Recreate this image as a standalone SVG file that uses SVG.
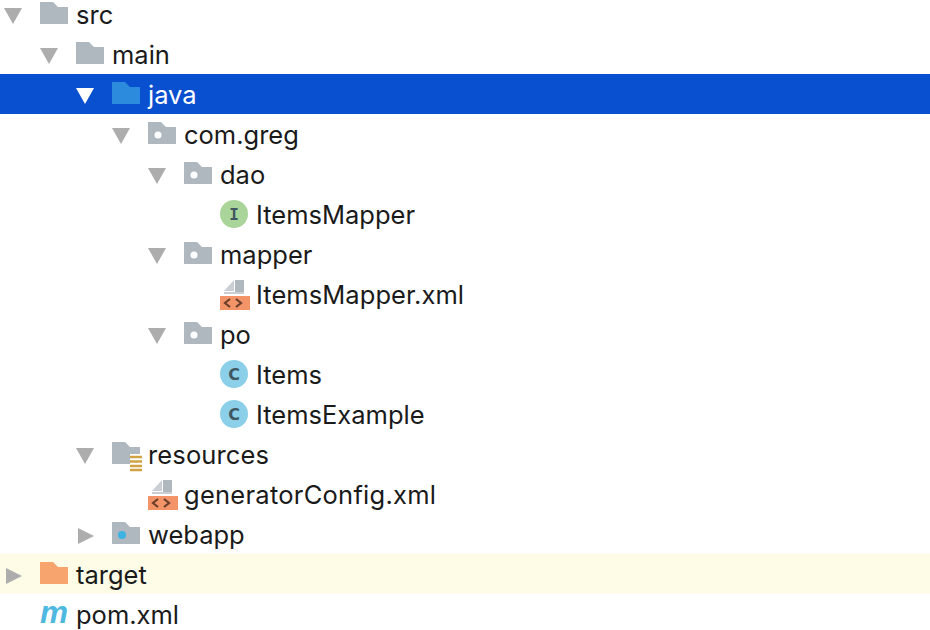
<svg xmlns="http://www.w3.org/2000/svg" width="930" height="630" viewBox="0 0 930 630">
<style>
text{font-family:"Inter","Noto Sans","Liberation Sans",sans-serif;font-size:25.5px;fill:#1a1a1a}
.sel{fill:#fff}
.tri{fill:#adadad}
.fold{fill:#afb8bf}
.ic{font-family:"DejaVu Sans",sans-serif;font-size:16px;font-weight:bold;fill:#3f5560;text-anchor:middle}
.ii{font-family:"DejaVu Sans Mono",monospace}
</style>
<defs>
<path id="folder" d="M0 0H13L18 5H28V22H0Z"/>
<path id="down" class="tri" d="M0 0H18L9 16Z"/>
<path id="right" class="tri" d="M0 0L16 8L0 16Z"/>
<g id="xml"><path fill="#c9cfd4" d="M4 11L14 0V11Z"/><rect x="4" y="12" width="20" height="2" fill="#c9cfd4"/><rect x="15" y="0" width="9" height="12" fill="#afb8bf"/><rect x="0" y="16" width="30" height="14" fill="#f39368"/><path d="M10 19L5 23L10 27M16 19L21 23L16 27" fill="none" stroke="#6b3f2c" stroke-width="2.200"/></g>
<circle id="pkgdot" cx="10" cy="13" r="3.500" fill="#fff"/>
</defs>
<rect width="930" height="630" fill="#fff"/>
<rect y="74" width="930" height="40" fill="#0950d0"/>
<rect y="554" width="930" height="39.500" fill="#fefce6"/>
<g id="connectors"></g>
<g id="src"><use href="#down" x="4" y="8"/><use href="#folder" x="40" y="2" class="fold"/><text x="76" y="24">src</text></g>
<g id="main"><use href="#down" x="40" y="48"/><use href="#folder" x="76" y="42" class="fold"/><text x="112" y="64">main</text></g>
<g id="java"><path fill="#fff" d="M76 88H94L85 104Z"/><use href="#folder" x="112" y="82" fill="#2c8bdc"/><text class="sel" x="148" y="104">java</text></g>
<g id="com-greg"><use href="#down" x="112" y="128"/><use href="#folder" x="148" y="122" class="fold"/><use href="#pkgdot" x="148" y="122"/><text x="184" y="144">com.greg</text></g>
<g id="dao"><use href="#down" x="148" y="168"/><use href="#folder" x="184" y="162" class="fold"/><use href="#pkgdot" x="184" y="162"/><text x="220" y="184">dao</text></g>
<g id="itemsmapper"><circle cx="234" cy="214" r="14" fill="#a9d59b"/><text class="ic ii" x="234" y="220">I</text><text x="256" y="224">ItemsMapper</text></g>
<g id="mapper"><use href="#down" x="148" y="248"/><use href="#folder" x="184" y="242" class="fold"/><use href="#pkgdot" x="184" y="242"/><text x="220" y="264">mapper</text></g>
<g id="itemsmapper-xml"><use href="#xml" x="220" y="280"/><text x="256" y="304" textLength="208">ItemsMapper.xml</text></g>
<g id="po"><use href="#down" x="148" y="328"/><use href="#folder" x="184" y="322" class="fold"/><use href="#pkgdot" x="184" y="322"/><text x="220" y="344">po</text></g>
<g id="items"><circle cx="234" cy="374" r="14" fill="#8bd0e8"/><text class="ic" x="234" y="380">C</text><text x="256" y="384">Items</text></g>
<g id="itemsexample"><circle cx="234" cy="414" r="14" fill="#8bd0e8"/><text class="ic" x="234" y="420">C</text><text x="256" y="424">ItemsExample</text></g>
<g id="resources"><use href="#down" x="76" y="448"/><use href="#folder" x="112" y="442" class="fold"/><path fill="#fff" d="M130 454H144V472H130Z"/><path d="M130 457H142M130 461.500H142M130 466H142M130 470H142" stroke="#d0a444" stroke-width="2.400"/><text x="148" y="464" textLength="121">resources</text></g>
<g id="generatorconfig"><use href="#xml" x="148" y="480"/><text x="184" y="504" textLength="252">generatorConfig.xml</text></g>
<g id="webapp"><use href="#right" x="78" y="528"/><use href="#folder" x="112" y="522" class="fold"/><circle cx="122" cy="535" r="4" fill="#3eb2e2"/><text x="148" y="544">webapp</text></g>
<g id="target"><use href="#right" x="6" y="568"/><use href="#folder" x="40" y="562" fill="#f7a46f"/><text x="76" y="584">target</text></g>
<g id="pom"><text x="40" y="623" textLength="28" lengthAdjust="spacingAndGlyphs" style="font-family:'Liberation Sans',sans-serif;font-size:32px;font-style:italic;font-weight:bold;fill:#4fb8e0">m</text><text x="76" y="624">pom.xml</text></g>
</svg>
